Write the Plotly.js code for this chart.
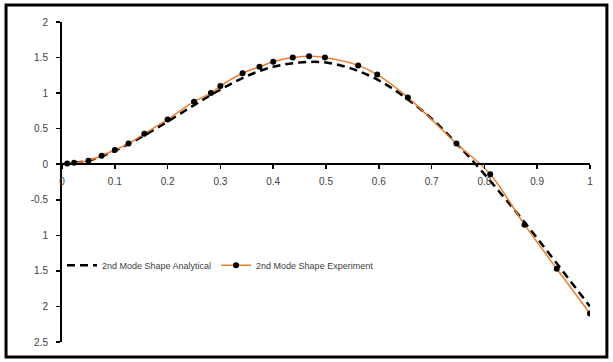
<!DOCTYPE html>
<html>
<head>
<meta charset="utf-8">
<script src="https://cdn.plot.ly/plotly-3.0.1.min.js"></script>
<style>html,body{margin:0;padding:0;background:#fff;}#chart{width:613px;height:362px;}</style>
</head>
<body>
<div id="chart"></div>
<script>
// Analytical series
const xAnalytical = [0,0.05,0.1,0.15,0.2,0.25,0.3,0.35,0.4,0.45,0.5,0.55,0.6,0.65,0.7,0.75,0.8,0.85,0.9,0.95,1.0];
const yAnalytical = [0,0.05,0.19,0.38,0.60,0.83,1.05,1.24,1.37,1.43,1.43,1.34,1.18,0.94,0.64,0.27,-0.14,-0.58,-1.04,-1.52,-2.0];
// Experiment series
const xExperiment = [0.01,0.023,0.05,0.075,0.1,0.126,0.156,0.2,0.25,0.282,0.3,0.342,0.374,0.4,0.437,0.468,0.498,0.561,0.597,0.655,0.747,0.811,0.876,0.937,1.0];
const yExperiment = [0.01,0.02,0.05,0.12,0.2,0.29,0.43,0.63,0.88,1.0,1.1,1.28,1.37,1.44,1.5,1.52,1.5,1.39,1.26,0.94,0.29,-0.14,-0.85,-1.47,-2.1];
const seriesNames = ["2nd Mode Shape Analytical","2nd Mode Shape Experiment"];
const yTickVals = [2,1.5,1,0.5,0,-0.5,-1,-1.5,-2,-2.5];
const yTickText = ["2","1.5","1","0.5","0","-0.5","1","1.5","2","2.5"];
const xTickVals = [0,0.1,0.2,0.3,0.4,0.5,0.6,0.7,0.8,0.9,1];
const xTickText = ["0","0.1","0.2","0.3","0.4","0.5","0.6","0.7","0.8","0.9","1"];

const yMin = -2.5, yMax = 2;
const tickFont = {family:"Liberation Sans, Arial, sans-serif", size:10, color:"#404040"};

const traces = [
  {x:xAnalytical, y:yAnalytical, name:seriesNames[0], type:"scatter", mode:"lines",
   line:{color:"#000000", width:2.5, dash:"8px,5px", shape:"spline"}},
  {x:xExperiment, y:yExperiment, name:seriesNames[1], type:"scatter", mode:"lines+markers",
   line:{color:"#ED7D31", width:1.5, shape:"spline"},
   marker:{color:"#000000", size:6, symbol:"circle"}}
];

const layout = {
  width:613, height:362,
  margin:{l:62, r:23, t:22, b:20},
  paper_bgcolor:"#ffffff", plot_bgcolor:"#ffffff",
  showlegend:true,
  legend:{orientation:"h", x:0, xanchor:"left", y:0.24, yanchor:"middle",
          font:{family:"Liberation Sans, Arial, sans-serif", size:9, color:"#404040"},
          bgcolor:"rgba(0,0,0,0)", tracegroupgap:0},
  xaxis:{range:[0,1], tickvals:xTickVals, ticktext:xTickText, showgrid:false, zeroline:false,
         showline:true, linecolor:"#000000", linewidth:2, ticks:"outside", ticklen:4, tickwidth:1.5,
         tickcolor:"#000000", tickfont:tickFont, anchor:"free", ticklabelstandoff:4,
         position:(0 - yMin)/(yMax - yMin), fixedrange:true},
  yaxis:{range:[yMin,yMax], tickvals:yTickVals, ticktext:yTickText, showgrid:false, zeroline:false,
         showline:true, linecolor:"#000000", linewidth:2, ticks:"outside", ticklen:4, tickwidth:1.5,
         tickcolor:"#000000", tickfont:tickFont, ticklabelstandoff:6, fixedrange:true},
  shapes:[{type:"rect", xref:"paper", yref:"paper", x0:-0.106, x1:1.032, y0:-0.047, y1:1.053,
           line:{color:"#000000", width:3}, fillcolor:"rgba(0,0,0,0)", layer:"below"}]
};

Plotly.newPlot("chart", traces, layout, {displayModeBar:false, staticPlot:true});
</script>
</body>
</html>
